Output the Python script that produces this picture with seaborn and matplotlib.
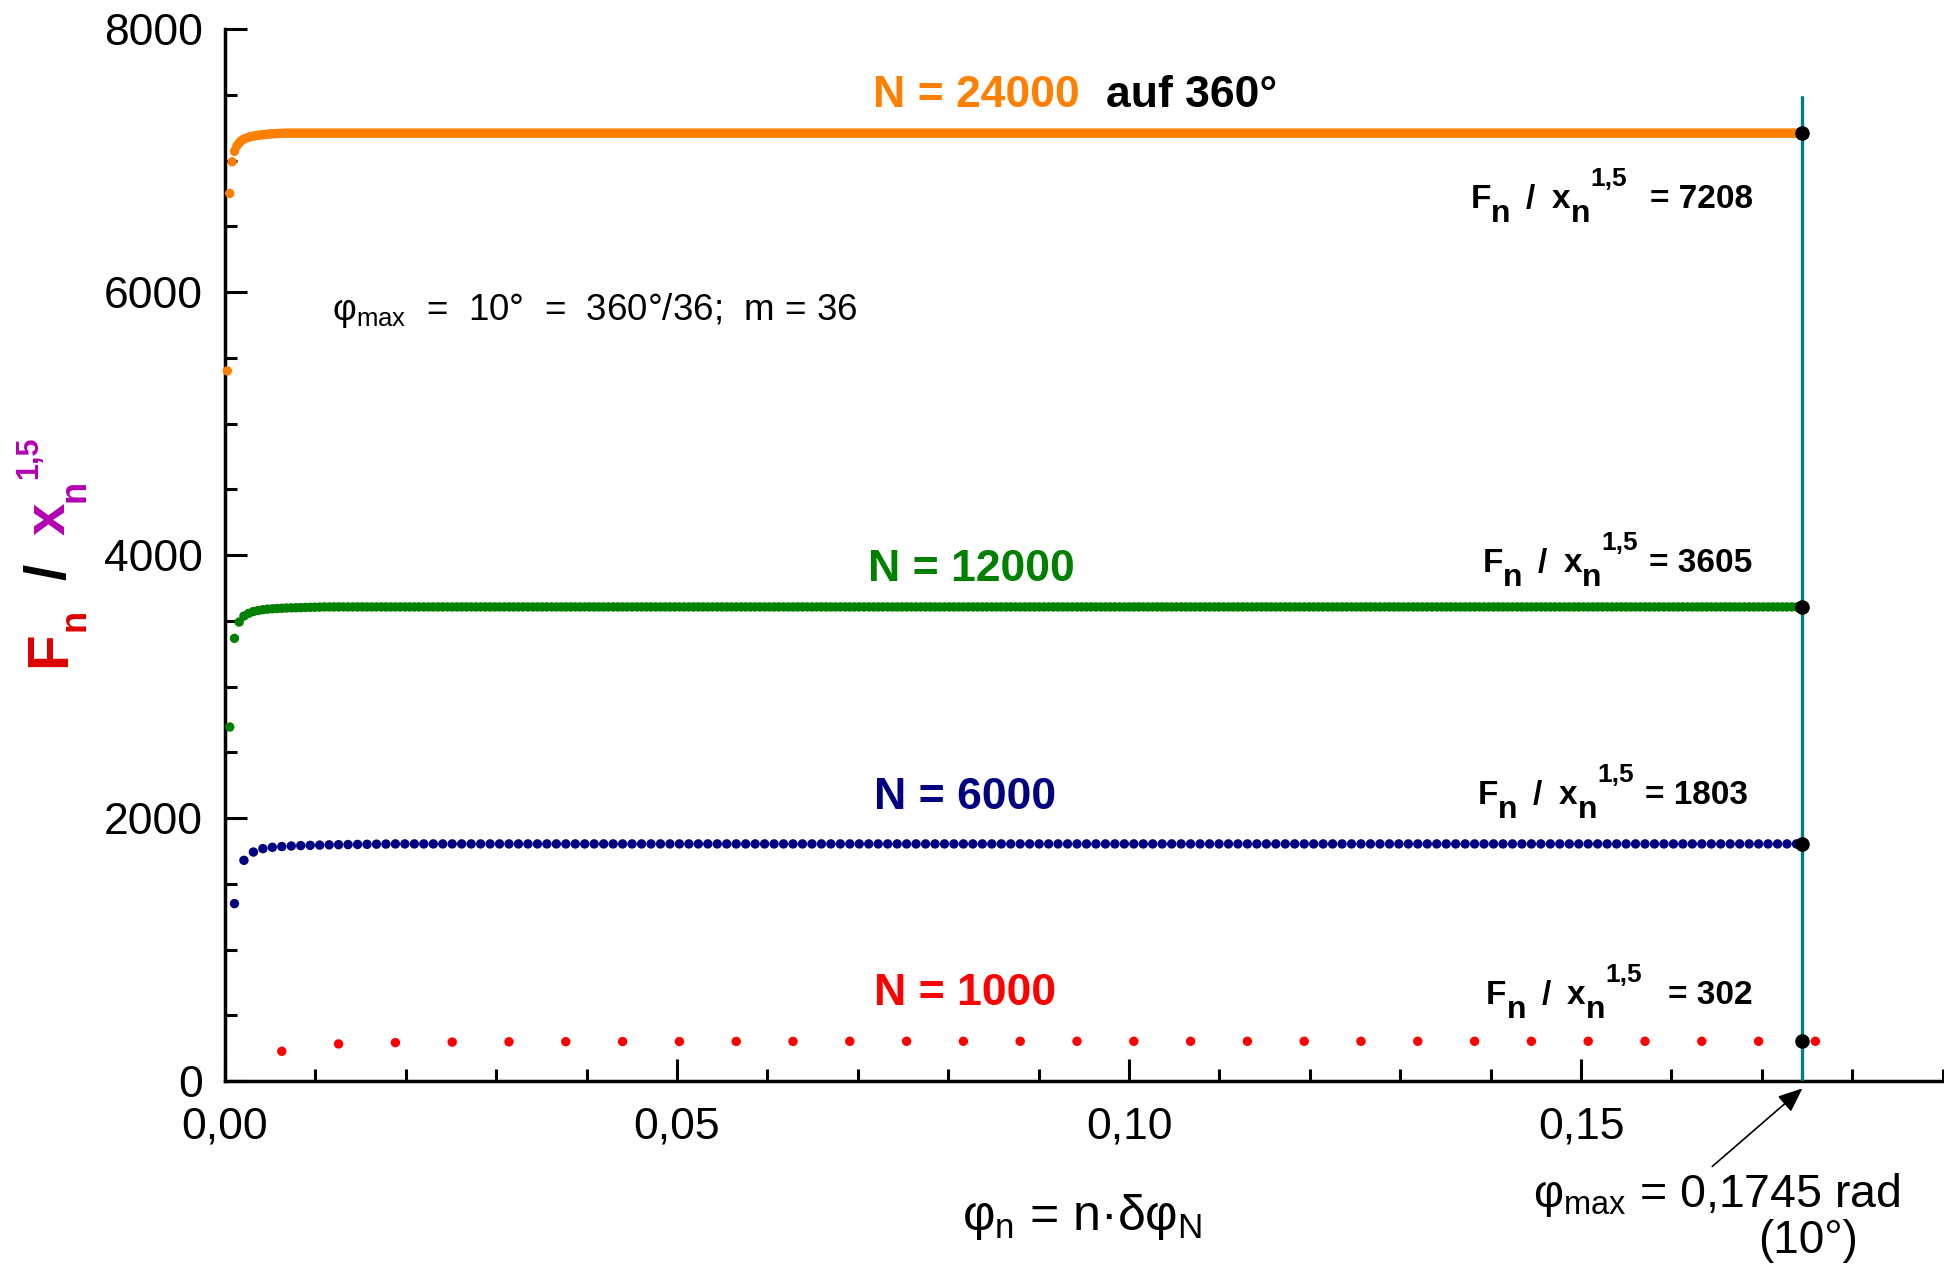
import numpy as np
import pandas as pd
import matplotlib
matplotlib.use("Agg")
import matplotlib.pyplot as plt
import seaborn as sns
from matplotlib.ticker import FixedLocator, FixedFormatter, MultipleLocator

sns.set_theme(style="ticks")
plt.rcParams["font.family"] = ["Liberation Sans", "DejaVu Sans"]
plt.rcParams["mathtext.default"] = "regular"
plt.rcParams["text.color"] = "black"
plt.rcParams["axes.edgecolor"] = "black"
plt.rcParams["xtick.color"] = "black"
plt.rcParams["ytick.color"] = "black"

# ---------------- data ----------------
N_values = [1000, 6000, 12000, 24000]
series_colors = ["#ff0000", "#000080", "#008000", "#ff8000"]
n_points = [28, 166, 333, 666]          # points n = 1 .. up to phi_max
# F_n / x_n^1.5 for the first points of each run, then the settled value
head_1000 = [226, 282, 292, 296, 298, 299, 300, 300, 301, 301]
head_6000 = [1349, 1678, 1741, 1767, 1777, 1783, 1787, 1790, 1792, 1794,
             1796, 1797, 1798, 1799, 1800, 1801, 1802]
head_12000 = [2692, 3366, 3490, 3536, 3556, 3570, 3578, 3584, 3588, 3591,
              3593, 3595, 3597, 3598, 3599, 3600, 3601, 3602, 3603, 3604]
head_24000 = [5400, 6750, 6990, 7070, 7110, 7135, 7152, 7163, 7171, 7177,
              7182, 7186, 7189, 7192, 7194, 7196, 7198, 7200, 7202, 7203,
              7204, 7205, 7206, 7207]
final_values = [302, 1803, 3605, 7208]
phi_max = 0.1745
phi_line_top = 7480

x_ticks = [0.0, 0.05, 0.10, 0.15]
x_tick_labels = ["0,00", "0,05", "0,10", "0,15"]
y_ticks = [0, 2000, 4000, 6000, 8000]
y_tick_labels = ["0", "2000", "4000", "6000", "8000"]

heads = [head_1000, head_6000, head_12000, head_24000]
frames = []
for N, cnt, head, fin in zip(N_values, n_points, heads, final_values):
    n = np.arange(1, cnt + 1)
    phi = n * 2 * np.pi / N
    vals = list(head) + [fin] * (cnt - len(head))
    frames.append(pd.DataFrame({"phi": phi, "ratio": vals, "N": N}))
df = pd.concat(frames, ignore_index=True)
end_df = pd.DataFrame({"phi": [phi_max] * len(final_values), "ratio": final_values})

# ---------------- figure ----------------
W, H = 1944, 1266
fig = plt.figure(figsize=(W / 100, H / 100), dpi=100)
x0, x1, y0, y1 = 225, 1942.6, 1081, 29
ax = fig.add_axes([x0 / W, (H - y0) / H, (x1 - x0) / W, (y0 - y1) / H])

sns.scatterplot(data=df, x="phi", y="ratio", hue="N",
                palette=dict(zip(N_values, series_colors)),
                s=46, linewidth=0, legend=False, ax=ax, zorder=3, clip_on=False)
ax.plot([phi_max, phi_max], [0, phi_line_top], color="#008080", lw=2.4, zorder=4)
sns.scatterplot(data=end_df, x="phi", y="ratio", color="black", s=110,
                linewidth=0, legend=False, ax=ax, zorder=5, clip_on=False)

ax.set_xlim(0, 0.19)
ax.set_ylim(0, 8000)
sns.despine(ax=ax)
for sp in ("left", "bottom"):
    ax.spines[sp].set_linewidth(2.5)
    ax.spines[sp].set_color("black")

ax.xaxis.set_major_locator(FixedLocator(x_ticks))
ax.xaxis.set_major_formatter(FixedFormatter(x_tick_labels))
ax.yaxis.set_major_locator(FixedLocator(y_ticks))
ax.yaxis.set_major_formatter(FixedFormatter(y_tick_labels))
ax.xaxis.set_minor_locator(MultipleLocator(0.01))
ax.yaxis.set_minor_locator(MultipleLocator(500))
ax.tick_params(which="major", direction="in", length=15.5, width=2.2, labelsize=32)
ax.tick_params(which="minor", direction="in", length=8.4, width=2.2)
ax.tick_params(axis="x", which="major", pad=18.5)
ax.tick_params(axis="y", which="major", pad=16)
ax.set_xlabel("")
ax.set_ylabel("")


def rich_text(ax, xy, pieces, xycoords="data", rotation=0):
    """Lay out bold text pieces one after another along the baseline.
    Each piece: (text, size, color, rise_pt, gap_after_pt)."""
    renderer = ax.figure.canvas.get_renderer()
    th = np.deg2rad(rotation)
    c, s = np.cos(th), np.sin(th)
    adv = 0.0
    for txt, size, color, rise, gap in pieces:
        ox = adv * c - rise * s
        oy = adv * s + rise * c
        t = ax.annotate(txt, xy=xy, xycoords=xycoords, xytext=(ox, oy),
                        textcoords="offset points", fontsize=size,
                        fontweight="bold", color=color, ha="left",
                        va="baseline", rotation=rotation,
                        rotation_mode="anchor", annotation_clip=False)
        bb = t.get_window_extent(renderer)
        ext = bb.width if abs(c) >= abs(s) else bb.height
        adv += ext * 72.0 / ax.figure.dpi + gap


# y axis title
rich_text(ax, (65 / W, (H - 667) / H), [
    ("F", 42, "#dd0000", 0, 0),
    ("n", 26, "#dd0000", -14, 21),
    ("/", 42, "black", 0, 21),
    ("x", 42, "#b200b2", 0, 0),
    ("n", 26, "#b200b2", -14, 1),
    ("1,5", 22, "#b200b2", 20, 0),
], xycoords="figure fraction", rotation=90)

# run labels
bold = dict(fontsize=32, fontweight="bold", va="baseline", ha="left")
ax.text(0.0717, 7409, "N = 24000", color="#ff8000", **bold)
ax.text(0.0975, 7409, "auf 360°", color="black", **bold)
ax.text(0.0711, 3800, "N = 12000", color="#008000", **bold)
ax.text(0.0718, 2068, "N = 6000", color="#000080", **bold)
ax.text(0.0718, 578, "N = 1000", color="#ff0000", **bold)

# value labels at phi_max
value_labels = [("= 7208", 0.1378, 6640, 17),
                ("= 3605", 0.1391, 3870, 8),
                ("= 1803", 0.1386, 2105, 8),
                ("= 302", 0.1395, 585, 19)]
for txt, lx, ly, g in value_labels:
    rich_text(ax, (lx, ly), [
        ("F", 24, "black", 0, 0),
        ("n", 23, "black", -10, 11),
        ("/", 24, "black", 0, 12),
        ("x", 24, "black", 0, 0),
        ("n", 23, "black", -10, 0),
        ("1,5", 19, "black", 16, g),
        (txt, 24, "black", 0, 0),
    ])

ax.text(0.01189, 5785, r"$\varphi_{max}$  =  10°  =  360°/36;  m = 36",
        fontsize=26.5, va="baseline", ha="left")

# x axis title and phi_max note
fig.text(1082 / W, (H - 1230) / H, r"$\varphi_n$ = n·δ$\varphi_N$",
         fontsize=36, ha="center", va="baseline")
fig.text(1533 / W, (H - 1207) / H, r"$\varphi_{max}$ = 0,1745 rad",
         fontsize=33.5, ha="left", va="baseline")
fig.text(1808 / W, (H - 1253) / H, "(10°)", fontsize=33, ha="center",
         va="baseline")
ax.annotate("", xy=(phi_max, -56), xytext=(0.16452, -650),
            arrowprops=dict(arrowstyle="-|>,head_length=0.6,head_width=0.25",
                            color="black", lw=1.2, mutation_scale=25,
                            shrinkA=0, shrinkB=0),
            annotation_clip=False)

fig.savefig("out.png", dpi=100, facecolor="white")
